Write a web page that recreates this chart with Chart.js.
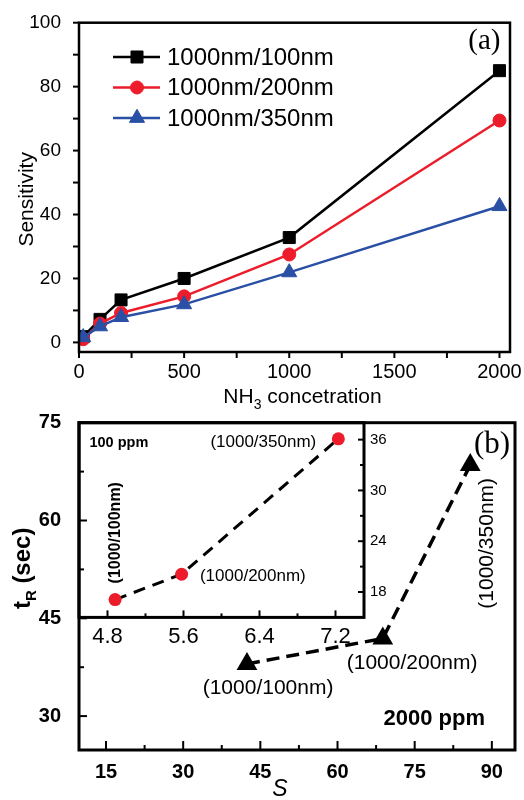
<!DOCTYPE html>
<html>
<head>
<meta charset="utf-8">
<script src="https://cdn.jsdelivr.net/npm/chart.js"></script>
<style>
  body { margin: 0; background: #fff; }
  #wrap { position: relative; width: 524px; height: 800px; }
  canvas { position: absolute; left: 0; }
</style>
</head>
<body>
<div id="wrap">
  <canvas id="panelA" width="524" height="412" style="top:0"></canvas>
  <canvas id="panelB" width="524" height="400" style="top:400px"></canvas>
  <canvas id="inset" width="524" height="400" style="top:400px"></canvas>
</div>
<script>
// (a) sensitivity vs NH3 concentration
const conc = [20, 100, 200, 500, 1000, 2000];
const sens100 = [1.8, 7.2, 13.3, 20.0, 32.8, 85.0];
const sens200 = [1.0, 5.9, 9.2, 14.4, 27.5, 69.4];
const sens350 = [1.6, 5.0, 7.9, 11.9, 21.9, 42.6];

// (b) response time vs S, 2000 ppm (main) and 100 ppm (inset)
const sMain = [42.4, 68.8, 85.8];
const tMain = [38.0, 41.9, 68.5];
const sInset = [4.88, 5.58, 7.23];
const tInset = [17.1, 20.1, 36.1];
const devices = ['(1000/100nm)', '(1000/200nm)', '(1000/350nm)'];

// tick values
const aXTicks = [0, 500, 1000, 1500, 2000];
const aXMinor = [250, 750, 1250, 1750];
const aYTicks = [0, 20, 40, 60, 80, 100];
const aYMinor = [10, 30, 50, 70, 90];
const bXTicks = [15, 30, 45, 60, 75, 90];
const bXMinor = [22.5, 37.5, 52.5, 67.5, 82.5];
const bYTicks = [30, 45, 60, 75];
const bYMinor = [37.5, 52.5, 67.5];
const inXTicks = [4.8, 5.6, 6.4, 7.2];
const inXMinor = [5.2, 6.0, 6.8];
const inYTicks = [18, 24, 30, 36];
const inYMinor = [21, 27, 33];

const SANS = '"Liberation Sans", Arial, sans-serif';
const SERIF = '"Liberation Serif", "Times New Roman", serif';
Chart.defaults.font.family = SANS;
Chart.defaults.color = '#000';

const RED = '#ec1c2a';
const BLUE = '#2a50a5';

const pts = (xs, ys) => xs.map((x, i) => ({ x: x, y: ys[i] }));
const setTicks = vals => s => { s.ticks = vals.map(v => ({ value: v })); };
// fix the axis box size and drop the label overflow padding
const fixSize = (w, h) => s => {
  if (w != null) s.width = w;
  if (h != null) s.height = h;
  s.paddingTop = s.paddingBottom = s.paddingLeft = s.paddingRight = 0;
};

// draws text made of pieces, some of them subscripts
function drawParts(ctx, parts, x, y, rot, baseline) {
  ctx.save();
  ctx.translate(x, y);
  if (rot) ctx.rotate(rot);
  ctx.textBaseline = baseline || 'alphabetic';
  ctx.textAlign = 'left';
  let w = 0;
  parts.forEach(p => { ctx.font = p.font; w += ctx.measureText(p.t).width; });
  let cx = -w / 2;
  parts.forEach(p => {
    ctx.font = p.font;
    ctx.fillText(p.t, cx, p.dy || 0);
    cx += ctx.measureText(p.t).width;
  });
  ctx.restore();
}

function markerAt(ctx, style, r, x, y) {
  if (Chart.helpers && Chart.helpers.drawPoint) {
    Chart.helpers.drawPoint(ctx, { pointStyle: style, radius: r, rotation: 0, borderWidth: 1 }, x, y);
    return;
  }
  ctx.beginPath();
  if (style === 'rect') { const s = r * Math.SQRT1_2; ctx.rect(x - s, y - s, 2 * s, 2 * s); }
  else if (style === 'triangle') {
    ctx.moveTo(x, y - r); ctx.lineTo(x + r * 0.866, y + r / 2); ctx.lineTo(x - r * 0.866, y + r / 2); ctx.closePath();
  } else ctx.arc(x, y, r, 0, Math.PI * 2);
  ctx.fill(); ctx.stroke();
}

// frame, tick marks, notes, axis titles and custom legend
const decor = {
  id: 'decor',
  afterDraw(chart, args, o) {
    const ctx = chart.ctx, a = chart.chartArea;
    ctx.save();
    ctx.strokeStyle = '#000';
    ctx.fillStyle = '#000';
    ctx.lineWidth = o.frame;
    ctx.strokeRect(a.left, a.top, a.right - a.left, a.bottom - a.top);

    (o.ticks || []).forEach(t => {
      const sc = chart.scales[t.axis];
      ctx.lineWidth = t.width || 2;
      t.values.forEach(v => {
        const p = sc.getPixelForValue(v);
        const d = t.inward ? -t.len : t.len;
        ctx.beginPath();
        if (sc.isHorizontal()) {
          ctx.moveTo(p, a.bottom); ctx.lineTo(p, a.bottom + d);
        } else if (sc.position === 'right') {
          ctx.moveTo(a.right, p); ctx.lineTo(a.right + d, p);
        } else {
          ctx.moveTo(a.left, p); ctx.lineTo(a.left - d, p);
        }
        ctx.stroke();
      });
    });

    const xs = chart.scales.x, ys = chart.scales.y;
    (o.notes || []).forEach(n => {
      ctx.save();
      ctx.font = n.font;
      ctx.textAlign = 'center';
      ctx.textBaseline = 'middle';
      ctx.translate(xs.getPixelForValue(n.x), ys.getPixelForValue(n.y));
      if (n.rot) ctx.rotate(n.rot);
      ctx.fillText(n.text, 0, 0);
      ctx.restore();
    });

    if (o.titles) o.titles(chart, ctx, a);

    if (o.legend) {
      chart.data.datasets.forEach((ds, i) => {
        const y = a.top + 34.3 + i * 30.5;
        ctx.strokeStyle = ds.borderColor;
        ctx.fillStyle = ds.backgroundColor;
        ctx.lineWidth = 2.5;
        ctx.beginPath();
        ctx.moveTo(a.left + 34, y); ctx.lineTo(a.left + 81, y);
        ctx.stroke();
        ctx.lineWidth = 1;
        markerAt(ctx, ds.pointStyle, ds.pointRadius, a.left + 58, y);
        ctx.fillStyle = '#000';
        ctx.font = '24px ' + SANS;
        ctx.textAlign = 'left';
        ctx.textBaseline = 'middle';
        ctx.fillText(ds.label, a.left + 88, y + 1);
      });
    }
    ctx.restore();
  }
};

const noGrid = { display: false, drawTicks: false };
const noBorder = { display: false };

// ---------- panel (a) ----------
new Chart(document.getElementById('panelA'), {
  type: 'scatter',
  data: {
    datasets: [
      { label: '1000nm/100nm', data: pts(conc, sens100), showLine: true, order: 3,
        borderColor: '#000', backgroundColor: '#000', borderWidth: 2.5,
        pointStyle: 'rect', pointRadius: 8.5, pointBorderWidth: 1 },
      { label: '1000nm/200nm', data: pts(conc, sens200), showLine: true, order: 2,
        borderColor: RED, backgroundColor: RED, borderWidth: 2.5,
        pointStyle: 'circle', pointRadius: 6.5, pointBorderWidth: 1 },
      { label: '1000nm/350nm', data: pts(conc, sens350), showLine: true, order: 1,
        borderColor: BLUE, backgroundColor: BLUE, borderWidth: 2.5,
        pointStyle: 'triangle', pointRadius: 8.7, pointBorderWidth: 1 }
    ]
  },
  options: {
    responsive: false,
    animation: false,
    devicePixelRatio: 1,
    layout: { autoPadding: false, padding: { top: 22.7, right: 14, left: 0, bottom: 0 } },
    plugins: {
      legend: { display: false },
      tooltip: { enabled: false },
      decor: {
        frame: 2.5,
        legend: true,
        ticks: [
          { axis: 'x', values: aXTicks.concat(aXMinor), len: 6, inward: false },
          { axis: 'y', values: aYTicks.concat(aYMinor), len: 6, inward: false }
        ],
        notes: [
          { text: '(a)', x: 1928, y: 94.3, font: '29px ' + SERIF }
        ],
        titles: (chart, ctx, a) => {
          ctx.fillStyle = '#000';
          drawParts(ctx, [{ t: 'Sensitivity', font: '21px ' + SANS }],
            27, (a.top + a.bottom) / 2 + 12, -Math.PI / 2, 'middle');
          drawParts(ctx, [
            { t: 'NH', font: '21px ' + SANS },
            { t: '3', font: '14px ' + SANS, dy: 6 },
            { t: ' concetration', font: '21px ' + SANS }
          ], (a.left + a.right) / 2 + 8, a.bottom + 51);
        }
      }
    },
    scales: {
      x: {
        type: 'linear', min: 0, max: 2050,
        grid: noGrid, border: noBorder,
        afterBuildTicks: setTicks(aXTicks),
        afterFit: fixSize(null, 60),
        ticks: { font: { size: 20 }, padding: 8, maxRotation: 0, callback: v => String(v) }
      },
      y: {
        type: 'linear', min: -3, max: 100,
        grid: noGrid, border: noBorder,
        afterBuildTicks: setTicks(aYTicks),
        afterFit: fixSize(79, null),
        ticks: { font: { size: 19 }, padding: 18, callback: v => String(v) }
      }
    }
  },
  plugins: [decor]
});

// ---------- panel (b), 2000 ppm ----------
new Chart(document.getElementById('panelB'), {
  type: 'scatter',
  data: {
    datasets: [
      { label: '2000 ppm', data: pts(sMain, tMain), showLine: true,
        borderColor: '#000', backgroundColor: '#000', borderWidth: 3.5, borderDash: [13, 7],
        pointStyle: 'triangle', pointRadius: 12, pointBorderWidth: 0 }
    ]
  },
  options: {
    responsive: false,
    animation: false,
    devicePixelRatio: 1,
    layout: { autoPadding: false, padding: { top: 22.7, right: 9, left: 0, bottom: 0 } },
    plugins: {
      legend: { display: false },
      tooltip: { enabled: false },
      decor: {
        frame: 3,
        ticks: [
          { axis: 'x', values: bXTicks, len: 9, inward: true },
          { axis: 'x', values: bXMinor, len: 5, inward: true },
          { axis: 'y', values: bYTicks, len: 8, inward: true },
          { axis: 'y', values: bYMinor, len: 5, inward: true }
        ],
        notes: [
          { text: devices[0], x: 46.5, y: 34.3, font: '21px ' + SANS },
          { text: devices[1], x: 74.5, y: 38.1, font: '21px ' + SANS },
          { text: devices[2], x: 89.1, y: 56.5, font: '21px ' + SANS, rot: -Math.PI / 2 },
          { text: '2000 ppm', x: 78.8, y: 29.5, font: 'bold 22px ' + SANS },
          { text: '(b)', x: 90.05, y: 71.6, font: '31px ' + SERIF }
        ],
        titles: (chart, ctx, a) => {
          ctx.fillStyle = '#000';
          drawParts(ctx, [
            { t: 't', font: 'bold 24px ' + SANS },
            { t: 'R', font: 'bold 15px ' + SANS, dy: 6 },
            { t: ' (sec)', font: 'bold 24px ' + SANS }
          ], 30, (a.top + a.bottom) / 2 - 18, -Math.PI / 2);
          drawParts(ctx, [{ t: 'S', font: 'italic 23px ' + SANS }],
            (a.left + a.right) / 2 - 17, a.bottom + 40, 0, 'middle');
        }
      }
    },
    scales: {
      x: {
        type: 'linear', min: 9.75, max: 94.5,
        grid: noGrid, border: noBorder,
        afterBuildTicks: setTicks(bXTicks),
        afterFit: fixSize(null, 50),
        ticks: { font: { size: 20, weight: 'bold' }, padding: 10, maxRotation: 0, callback: v => String(v) }
      },
      y: {
        type: 'linear', min: 24.8, max: 75,
        grid: noGrid, border: noBorder,
        afterBuildTicks: setTicks(bYTicks),
        afterFit: fixSize(79, null),
        ticks: { font: { size: 20, weight: 'bold' }, padding: 18, callback: v => String(v) }
      }
    }
  },
  plugins: [decor]
});

// ---------- inset, 100 ppm ----------
new Chart(document.getElementById('inset'), {
  type: 'scatter',
  data: {
    datasets: [
      { label: '100 ppm', data: pts(sInset, tInset), showLine: true,
        borderColor: '#000', backgroundColor: RED, borderWidth: 3, borderDash: [12, 8],
        pointStyle: 'circle', pointRadius: 6.5, pointBorderWidth: 0 }
    ]
  },
  options: {
    responsive: false,
    animation: false,
    devicePixelRatio: 1,
    layout: { autoPadding: false, padding: { top: 22.7, right: 0, left: 79, bottom: 0 } },
    plugins: {
      legend: { display: false },
      tooltip: { enabled: false },
      decor: {
        frame: 3,
        ticks: [
          { axis: 'x', values: inXTicks, len: 7, inward: true },
          { axis: 'x', values: inXMinor, len: 4, inward: true },
          { axis: 'y', values: inYTicks, len: 6, inward: true },
          { axis: 'y', values: inYMinor, len: 4, inward: true }
        ],
        notes: [
          { text: '100 ppm', x: 4.92, y: 35.56, font: 'bold 14.5px ' + SANS },
          { text: devices[2], x: 6.44, y: 35.7, font: '17px ' + SANS },
          { text: devices[1], x: 6.33, y: 19.9, font: '17px ' + SANS },
          { text: devices[0], x: 4.88, y: 25.0, font: 'bold 16px ' + SANS, rot: -Math.PI / 2 }
        ]
      }
    },
    scales: {
      x: {
        type: 'linear', min: 4.5, max: 7.5,
        grid: noGrid, border: noBorder,
        afterBuildTicks: setTicks(inXTicks),
        afterFit: fixSize(null, 182.6),
        ticks: { font: { size: 22 }, padding: 6, maxRotation: 0, callback: v => v.toFixed(1) }
      },
      y: {
        type: 'linear', position: 'right', min: 15, max: 38,
        grid: noGrid, border: noBorder,
        afterBuildTicks: setTicks(inYTicks),
        afterFit: fixSize(160, null),
        ticks: { font: { size: 15 }, padding: 6, callback: v => String(v) }
      }
    }
  },
  plugins: [decor]
});
</script>
</body>
</html>
